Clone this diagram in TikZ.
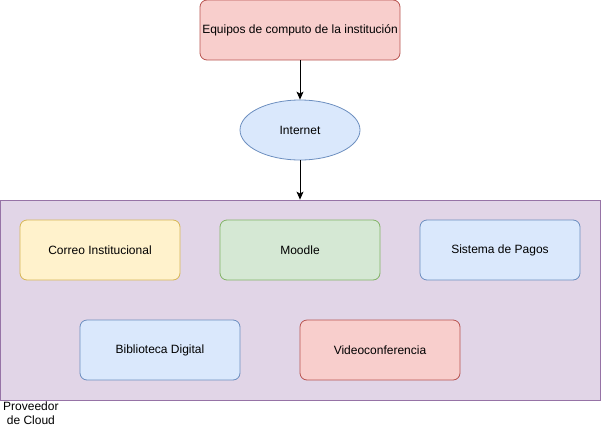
\documentclass[tikz,border=0pt]{standalone}
\usepackage{fontspec}
\setmainfont{Liberation Sans}
\usetikzlibrary{shapes.geometric, arrows.meta}

\definecolor{rojoF}{HTML}{F8CECC}
\definecolor{rojoD}{HTML}{B85450}
\definecolor{azulF}{HTML}{DAE8FC}
\definecolor{azulD}{HTML}{6C8EBF}
\definecolor{verdeF}{HTML}{D5E8D4}
\definecolor{verdeD}{HTML}{82B366}
\definecolor{amarF}{HTML}{FFF2CC}
\definecolor{amarD}{HTML}{D6B656}
\definecolor{moradoF}{HTML}{E1D5E7}
\definecolor{moradoD}{HTML}{9673A6}

\begin{document}
\begin{tikzpicture}[x=1pt, y=-1pt, >={Stealth[length=8pt, width=7pt, inset=2pt]},
    every node/.style={font=\fontsize{12}{14}\selectfont},
    servicio/.style={rectangle, rounded corners=7pt, draw, line width=0.8pt,
      minimum width=160pt, minimum height=60pt, inner sep=0pt},
    red/.style={ellipse, draw, line width=0.8pt, minimum width=120pt,
      minimum height=60pt, inner sep=0pt, fill=azulF, draw=azulD},
    flecha/.style={draw, line width=0.8pt, ->}]
   \useasboundingbox (0,0) rectangle (601,431);

   % contenedor de la nube
   \node[rectangle, draw=moradoD, fill=moradoF, line width=0.8pt,
     minimum width=600pt, minimum height=200pt, inner sep=0pt] (nube) at (300,300) {};
   \node[align=center, anchor=north west, inner sep=0pt] (etiqueta) at (3,402) {Proveedor\\de Cloud};

   \node[servicio, fill=rojoF, draw=rojoD, minimum width=200pt] (equipos) at (300,30) {Equipos de computo de la instituci\'on};
   \node[red] (internet) at (300,130) {Internet};

   \node[servicio, fill=amarF, draw=amarD] (correo) at (100,250) {Correo Institucional};
   \node[servicio, fill=verdeF, draw=verdeD] (moodle) at (300,250) {Moodle};
   \node[servicio, fill=azulF, draw=azulD] (pagos) at (500,250) {Sistema de Pagos};
   \node[servicio, fill=azulF, draw=azulD] (biblioteca) at (160,350) {Biblioteca Digital};
   \node[servicio, fill=rojoF, draw=rojoD] (video) at (380,350) {Videoconferencia};

   \draw[flecha] (equipos) to (internet);
   \draw[flecha] (internet) to (nube);
 \end{tikzpicture}
\end{document}
